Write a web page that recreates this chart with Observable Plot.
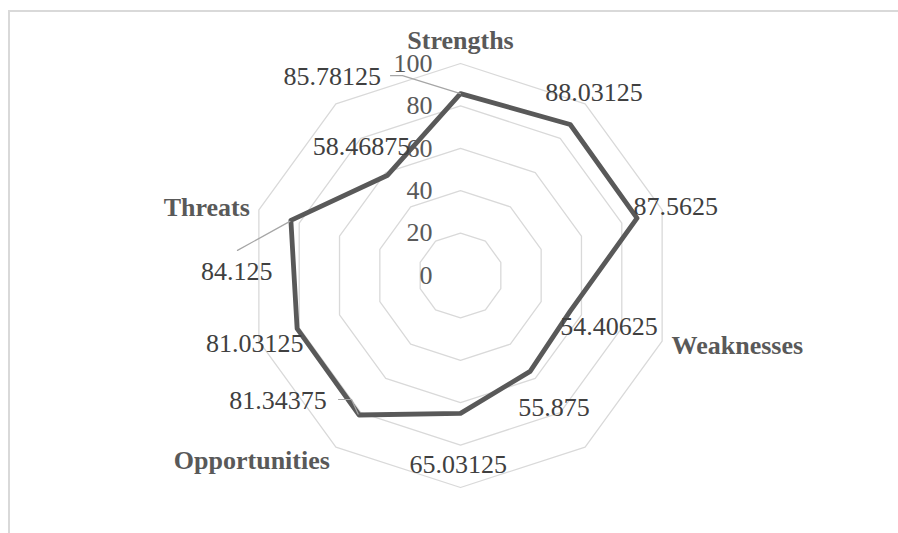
<!DOCTYPE html>
<html>
<head>
<meta charset="utf-8">
<script src="https://cdn.jsdelivr.net/npm/d3@7"></script>
<script src="https://cdn.jsdelivr.net/npm/@observablehq/plot@0.6"></script>
<style>
  html, body { margin: 0; padding: 0; background: #ffffff; }
  #wrap { position: relative; width: 898px; height: 533px; overflow: hidden; }
  #frame { position: absolute; left: 8px; top: 10px; width: 1000px; height: 1000px;
           border-top: 2px solid #d9d9d9; border-left: 2px solid #d9d9d9; pointer-events: none; }
</style>
</head>
<body>
<div id="wrap"><div id="frame"></div></div>
<script>
// ---- data ----
const categories = ["Strengths", "", "", "Weaknesses", "", "", "Opportunities", "", "Threats", ""];
const values = [85.78125, 88.03125, 87.5625, 54.40625, 55.875, 65.03125, 81.34375, 81.03125, 84.125, 58.46875];
const tickValues = [0, 20, 40, 60, 80, 100];
const maxValue = 100;

// ---- layout (pixels) ----
const W = 898, H = 533;
const CX = 460, CY = 275;      // centre of the radar in pixels
const K = 2.12;                // pixels per value unit
const labelNudge = [[-177,-17],[-25,-32],[-3.5,-11],[-10,16],[-12,36],[-51,51],[-130,-14.5],[-91,15],[-90,51],[-75,-29]];
const catNudge = {0: [0,-23,"middle"], 3: [9.5,4.5,"start"], 6: [-6,13.5,"end"], 8: [-9,-2.5,"end"]};
const leaders = {0: [[-70,-18],[-58,-18],[0,0]], 6: [[-20.6,-15.5],[-7.6,-15.5],[-1,-1]], 8: [[-53.4,30],[-1,1]]};

const n = categories.length;
const ang = i => 2 * Math.PI * i / n;
const px = (v, i) => v * Math.sin(ang(i));
const py = (v, i) => v * Math.cos(ang(i));

// rings
const rings = tickValues.filter(t => t > 0).flatMap(t =>
  d3.range(n).map(i => ({t, x: px(t, i), y: py(t, i)})));

// data polygon
const pts = values.map((v, i) => ({i, v, x: px(v, i), y: py(v, i)}));

// data labels
const dlabels = pts.map(p => ({
  text: String(p.v),
  x: p.x + labelNudge[p.i][0] / K,
  y: p.y - labelNudge[p.i][1] / K
}));

// leader lines
const leaderPts = Object.entries(leaders).flatMap(([i, path]) =>
  path.map(([dx, dy]) => ({k: i, x: pts[i].x + dx / K, y: pts[i].y - dy / K})));

// category labels
const clabels = categories.map((c, i) => ({c, i})).filter(d => d.c !== "").map(d => ({
  text: d.c,
  x: px(maxValue, d.i) + catNudge[d.i][0] / K,
  y: py(maxValue, d.i) - catNudge[d.i][1] / K,
  anchor: catNudge[d.i][2]
}));

// tick labels
const tlabels = tickValues.map(t => ({text: String(t), x: -28 / K, y: t}));

const font = "'Liberation Serif', 'Times New Roman', serif";

const chart = Plot.plot({
  width: W,
  height: H,
  margin: 0,
  style: {background: "transparent", fontFamily: font},
  x: {domain: [-CX / K, (W - CX) / K], range: [0, W], axis: null},
  y: {domain: [-(H - CY) / K, CY / K], range: [H, 0], axis: null},
  marks: [
    Plot.line(rings, {x: "x", y: "y", z: "t", curve: "linear-closed", stroke: "#d9d9d9", strokeWidth: 1.3}),
    Plot.line(pts, {x: "x", y: "y", curve: "linear-closed", stroke: "#595959", strokeWidth: 4.8, strokeLinejoin: "round"}),
    Plot.line(leaderPts, {x: "x", y: "y", z: "k", stroke: "#a6a6a6", strokeWidth: 1.2}),
    Plot.text(tlabels, {x: "x", y: "y", text: "text", textAnchor: "end", fill: "#595959", fontSize: 26, fontFamily: font}),
    Plot.text(dlabels, {x: "x", y: "y", text: "text", textAnchor: "start", fill: "#404040", fontSize: 26, fontFamily: font}),
    ...clabels.map(d => Plot.text([d], {x: "x", y: "y", text: "text", textAnchor: d.anchor, fill: "#595959", fontSize: 26, fontWeight: "bold", fontFamily: font}))
  ]
});
document.getElementById("wrap").appendChild(chart);
</script>
</body>
</html>
